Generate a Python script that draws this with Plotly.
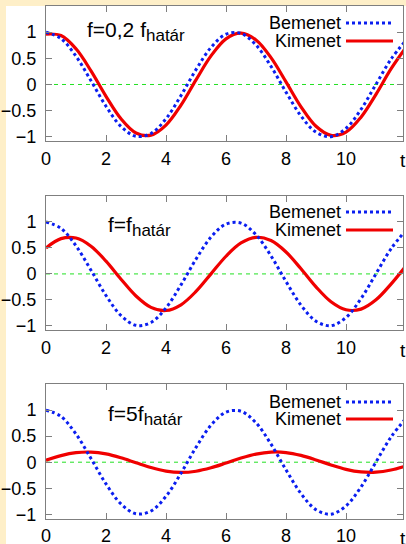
import plotly.graph_objects as go

# ---------------- data ----------------
t = [0.0, 0.5, 1.0, 1.5, 2.0, 2.5, 3.0, 3.5, 4.0, 4.5, 5.0, 5.5, 6.0,
     6.5, 7.0, 7.5, 8.0, 8.5, 9.0, 9.5, 10.0, 10.5, 11.0, 11.5, 12.0]

bemenet = [1.00, 0.878, 0.540, 0.071, -0.416, -0.801, -0.990, -0.936, -0.654,
           -0.211, 0.284, 0.709, 0.960, 0.977, 0.754, 0.347, -0.146, -0.602,
           -0.911, -0.997, -0.839, -0.476, 0.004, 0.483, 0.844]

kimenet_1 = [0.962, 0.936, 0.682, 0.260, -0.226, -0.655, -0.926, -0.968, -0.776,
             -0.395, 0.088, 0.546, 0.873, 0.981, 0.852, 0.513, 0.050, -0.426,
             -0.799, -0.974, -0.911, -0.625, -0.188, 0.297, 0.709]

kimenet_2 = [0.500, 0.679, 0.691, 0.534, 0.246, -0.102, -0.425, -0.644, -0.705,
             -0.594, -0.338, 0.001, 0.340, 0.596, 0.705, 0.642, 0.422, 0.098,
             -0.250, -0.536, -0.691, -0.678, -0.499, -0.196, 0.155]

kimenet_3 = [0.039, 0.126, 0.182, 0.194, 0.159, 0.084, -0.011, -0.103, -0.171,
             -0.196, -0.173, -0.108, -0.017, 0.079, 0.155, 0.194, 0.185, 0.130,
             0.044, -0.053, -0.137, -0.187, -0.192, -0.150, -0.071]

panel_main = ["f=0,2 f", "f=f", "f=5f"]
panel_sub = "határ"
series_names = ["Bemenet", "Kimenet"]
x_ticks = [0, 2, 4, 6, 8, 10]
y_ticks = [-1, -0.5, 0, 0.5, 1]
x_label = "t"

# ---------------- layout helpers ----------------
W, H = 406, 544
FONT = "Liberation Sans, Arial, Helvetica, sans-serif"
CREAM = "#FEEFC8"
GRAY = "#7f7f7f"
BLUE = "#0a1ef0"
RED = "#f00000"
GREEN = "#22e022"
TICK_SIZE = 18


def fx(p):
    return p / W


def fy(p):
    return 1 - p / H


panel_top = [6, 196, 384]
panel_bot = [141, 330, 518.5]
title_x = [85, 106, 106]
title_y = [31, 226, 415]
legend_y = [(23, 41), (212, 230), (402, 419)]

fig = go.Figure()
outputs = [kimenet_1, kimenet_2, kimenet_3]

layout = dict(
    width=W, height=H,
    margin=dict(l=0, r=0, t=0, b=0),
    paper_bgcolor=CREAM,
    plot_bgcolor="white",
    showlegend=False,
    font=dict(family=FONT, size=TICK_SIZE, color="black"),
    template="none",
)

shapes = [dict(type="rect", xref="paper", yref="paper", x0=fx(6), x1=1.0,
               y0=0.0, y1=fy(6), fillcolor="white", line=dict(width=0),
               layer="below")]
annotations = []

for i in range(3):
    n = "" if i == 0 else str(i + 1)
    xa, ya = "x" + n, "y" + n
    fig.add_trace(go.Scatter(x=t, y=outputs[i], mode="lines", xaxis=xa, yaxis=ya,
                             line=dict(color=RED, width=3.2, shape="spline"),
                             name=series_names[1]))
    fig.add_trace(go.Scatter(x=t, y=bemenet, mode="lines", xaxis=xa, yaxis=ya,
                             line=dict(color=BLUE, width=3, dash="dot", shape="spline"),
                             name=series_names[0]))
    layout["xaxis" + n] = dict(
        domain=[fx(46), fx(403)], range=[0, 11.9], anchor=ya,
        tickvals=x_ticks, ticks="inside", ticklen=6, tickcolor=GRAY,
        showline=True, linecolor=GRAY, linewidth=1, mirror="ticks",
        showgrid=False, zeroline=False, automargin=False,
        tickfont=dict(family=FONT, size=TICK_SIZE), ticklabelstandoff=1,
    )
    layout["yaxis" + n] = dict(
        domain=[fy(panel_bot[i]), fy(panel_top[i])], range=[-1.08, 1.5], anchor=xa,
        tickvals=y_ticks, ticks="inside", ticklen=6, tickcolor=GRAY,
        showline=True, linecolor=GRAY, linewidth=1, mirror="ticks",
        showgrid=False, zeroline=False, automargin=False,
        tickfont=dict(family=FONT, size=TICK_SIZE), ticklabelstandoff=5,
    )
    # green dashed zero line
    shapes.append(dict(type="line", xref=xa + " domain", yref=ya, x0=0, x1=1,
                       y0=0, y1=0, line=dict(color=GREEN, width=1, dash="4px,4px"),
                       layer="below"))
    # panel title with enlarged subscript
    annotations.append(dict(
        text=panel_main[i] + "<sub><span style=\"font-size:17px\">" + panel_sub + "</span></sub>",
        xref="paper", yref="paper",
        x=fx(title_x[i]), y=fy(title_y[i]), xanchor="left",
        yanchor="middle", showarrow=False, font=dict(size=21)))
    # x label "t"
    annotations.append(dict(text=x_label, xref="paper", yref="paper",
                            x=fx(403), y=fy(panel_bot[i] + 20), xanchor="center",
                            yanchor="middle", showarrow=False, font=dict(size=19)))
    # hand-made legend (text left of sample, gnuplot style)
    for j, (nm, col, dash) in enumerate([(series_names[0], BLUE, "dot"),
                                         (series_names[1], RED, "solid")]):
        yy = fy(legend_y[i][j])
        annotations.append(dict(text=nm, xref="paper", yref="paper", x=fx(342), y=yy,
                                xanchor="right", yanchor="middle", showarrow=False,
                                font=dict(size=18), borderpad=0))
        shapes.append(dict(type="line", xref="paper", yref="paper", x0=fx(346),
                           x1=fx(393), y0=yy, y1=yy,
                           line=dict(color=col, width=3, dash=dash)))

layout["shapes"] = shapes
layout["annotations"] = annotations
fig.update_layout(**layout)
fig.write_html("out.html")
